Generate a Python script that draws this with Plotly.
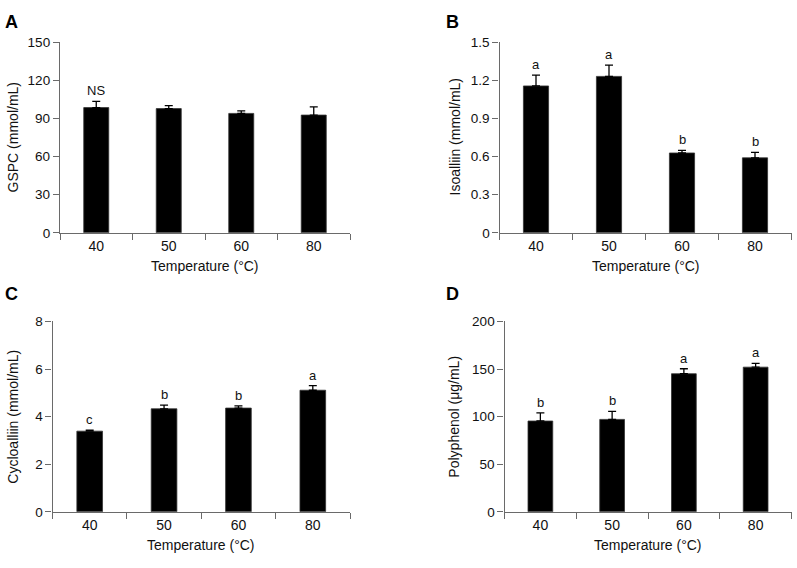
import plotly.graph_objects as go

W, H = 797, 568

temps = ["40", "50", "60", "80"]

gspc = [98.5, 97.7, 93.9, 92.6]
gspc_err = [4.8, 2.3, 2.0, 6.4]
gspc_sig = ["NS", "", "", ""]

isoalliin = [1.155, 1.23, 0.628, 0.59]
isoalliin_err = [0.085, 0.088, 0.02, 0.043]
isoalliin_sig = ["a", "a", "b", "b"]

cycloalliin = [3.39, 4.33, 4.36, 5.11]
cycloalliin_err = [0.04, 0.15, 0.09, 0.19]
cycloalliin_sig = ["c", "b", "b", "a"]

polyphenol = [95.4, 97.1, 145.1, 152.0]
polyphenol_err = [8.5, 8.5, 5.2, 4.0]
polyphenol_sig = ["b", "b", "a", "a"]

ticks_a = [0, 30, 60, 90, 120, 150]
ticks_b = [0, 0.3, 0.6, 0.9, 1.2, 1.5]
ticks_b_text = ["0", "0.3", "0.6", "0.9", "1.2", "1.5"]
ticks_c = [0, 2, 4, 6, 8]
ticks_d = [0, 50, 100, 150, 200]

FONT = "Liberation Sans, Arial, sans-serif"
AXC = "#6a6a6a"

# panel pixel boxes: (x0, x1, ytop, ybottom, ytitle_x)
boxes = {
    "A": (60, 350, 36, 232, 13),
    "B": (499.5, 791.5, 36, 232, 455),
    "C": (52.5, 350, 323, 518.5, 13),
    "D": (504.5, 791.5, 323, 518.5, 454),
}

panels = [
    ("A", gspc, gspc_err, gspc_sig, ticks_a, [str(t) for t in ticks_a], "GSPC (mmol/mL)", 150),
    ("B", isoalliin, isoalliin_err, isoalliin_sig, ticks_b, ticks_b_text, "Isoalliin (mmol/mL)", 1.5),
    ("C", cycloalliin, cycloalliin_err, cycloalliin_sig, ticks_c, [str(t) for t in ticks_c], "Cycloalliin (mmol/mL)", 8),
    ("D", polyphenol, polyphenol_err, polyphenol_sig, ticks_d, [str(t) for t in ticks_d], "Polyphenol (μg/mL)", 200),
]

fig = go.Figure()
annotations = []
layout = {}

for i, (name, vals, errs, sig, tv, tt, ytitle, ymax) in enumerate(panels):
    idx = "" if i == 0 else str(i + 1)
    x0, x1, yt, yb, tx = boxes[name]
    xd = [x0 / W, x1 / W]
    yd = [1 - yb / H, 1 - yt / H]
    fig.add_trace(go.Bar(
        x=temps, y=vals,
        xaxis="x" + idx, yaxis="y" + idx,
        width=0.345,
        marker=dict(color="black", line=dict(color="#333333", width=0.8)),
        error_y=dict(type="data", array=errs, arrayminus=[0] * len(errs), symmetric=False,
                     color="black", thickness=1.3, width=4),
        showlegend=False,
    ))
    layout["xaxis" + idx] = dict(
        domain=xd, anchor="y" + idx, type="category", range=[-0.5, 3.5],
        tickson="boundaries", ticks="outside", ticklen=6, tickcolor=AXC, tickwidth=1.3,
        showline=True, linecolor=AXC, linewidth=1.3, showgrid=False, zeroline=False,
        tickfont=dict(family=FONT, size=14, color="#111"),
    )
    layout["yaxis" + idx] = dict(
        domain=yd, anchor="x" + idx, range=[0, ymax], tickvals=tv, ticktext=tt,
        ticks="outside", ticklen=6, tickcolor=AXC, tickwidth=1.3,
        showline=True, linecolor=AXC, linewidth=1.3, showgrid=False, zeroline=False,
        tickfont=dict(family=FONT, size=13.5, color="#111"),
    )
    # significance letters
    for j, (v, e, s) in enumerate(zip(vals, errs, sig)):
        if s:
            annotations.append(dict(
                x=j, y=v + e, xref="x" + idx, yref="y" + idx, text=s, showarrow=False,
                yanchor="bottom", yshift=1, font=dict(family=FONT, size=13, color="#111"),
            ))
    # axis titles
    annotations.append(dict(
        x=tx / W, y=1 - (yt + yb) / 2 / H, xref="paper", yref="paper",
        text=ytitle, textangle=-90, showarrow=False, xanchor="center", yanchor="middle",
        font=dict(family=FONT, size=14, color="#111"),
    ))
    annotations.append(dict(
        x=(x0 + x1) / 2 / W, y=1 - (yb + 34) / H, xref="paper", yref="paper",
        text="Temperature (°C)", showarrow=False, xanchor="center", yanchor="middle",
        font=dict(family=FONT, size=14, color="#111"),
    ))

letter_pos = {"A": (11, 15), "B": (452, 15), "C": (11, 295), "D": (452, 295)}
for k, (px, py) in letter_pos.items():
    annotations.append(dict(
        x=px / W, y=1 - py / H, xref="paper", yref="paper", text="<b>" + k + "</b>",
        showarrow=False, xanchor="center", yanchor="middle",
        font=dict(family=FONT, size=18, color="black"),
    ))

fig.update_layout(
    width=W, height=H, margin=dict(l=0, r=0, t=0, b=0),
    paper_bgcolor="white", plot_bgcolor="white",
    annotations=annotations, bargap=0.6,
    **layout,
)

fig.write_html("out.html", config={"displayModeBar": False},
               post_script="document.body.style.margin='0';document.body.style.overflow='hidden';")
